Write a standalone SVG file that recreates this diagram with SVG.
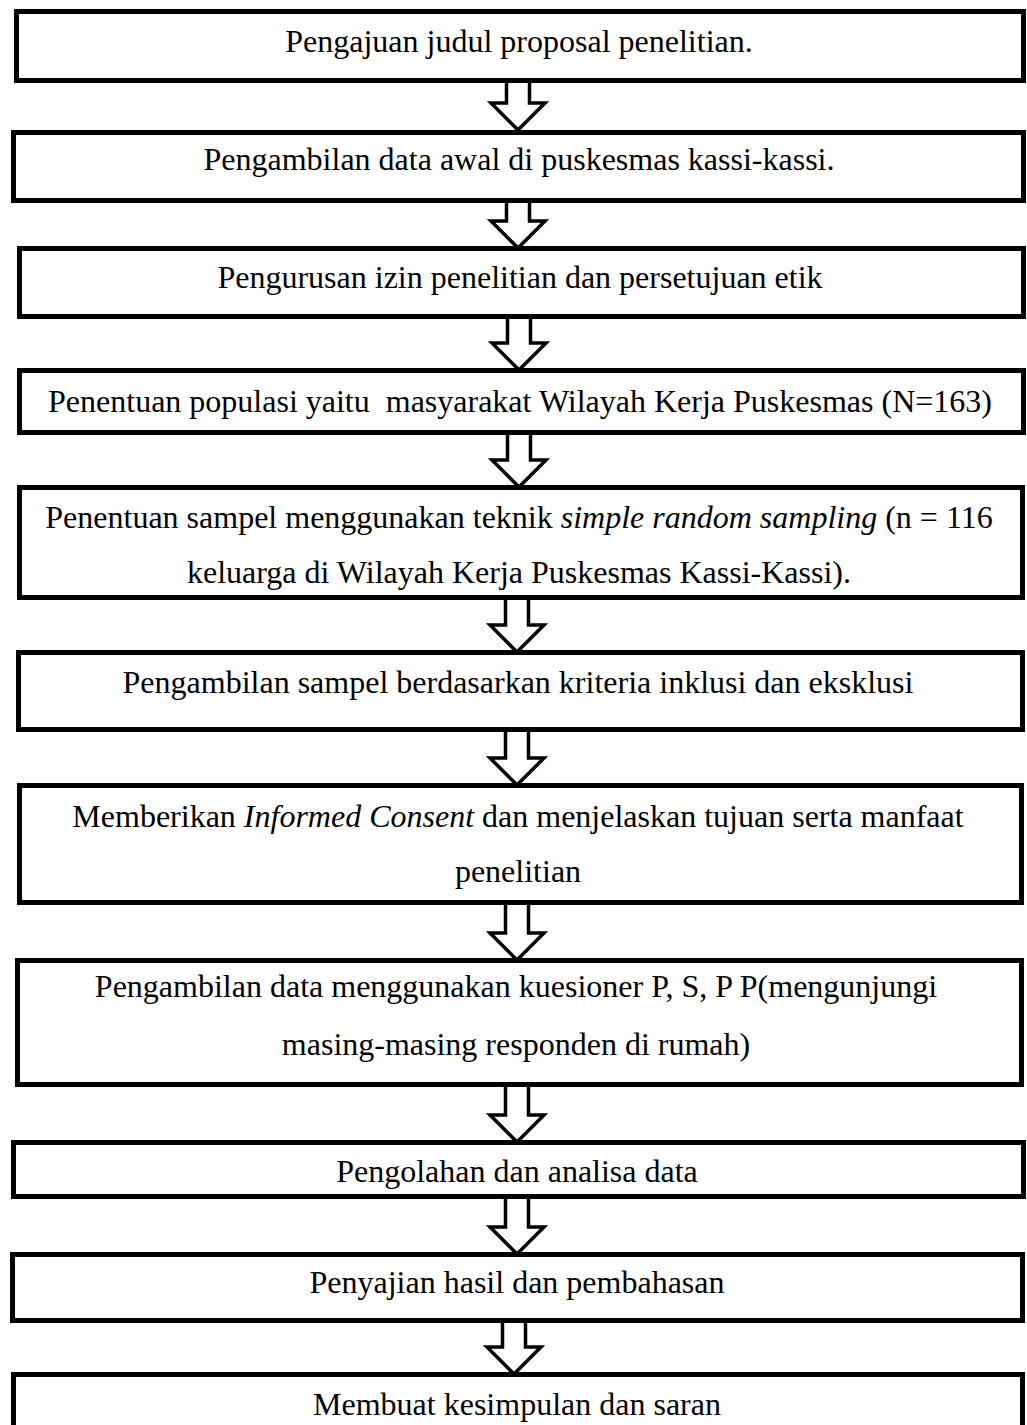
<svg xmlns="http://www.w3.org/2000/svg" width="1027" height="1425" viewBox="0 0 1027 1425">
<style>
.box{fill:#fff;stroke:#000;stroke-width:5}
.arr{fill:#fff;stroke:#000;stroke-width:3.5;stroke-linejoin:miter}
.t{font-family:"Liberation Serif","Times New Roman",serif;font-size:32px;fill:#000;text-anchor:middle}
.i{font-style:italic}
</style>
<rect width="1027" height="1425" fill="#fff"/>
<g id="connectors">
<path class="arr" d="M506.5 80.5 H529.5 V103 H545 L518 130 L491 103 H506.5 Z"/>
<path class="arr" d="M506.5 200.5 H529.5 V221 H545 L518 248 L491 221 H506.5 Z"/>
<path class="arr" d="M507.5 316.5 H530.5 V343 H546 L519 370 L492 343 H507.5 Z"/>
<path class="arr" d="M507.5 432.5 H530.5 V460 H546 L519 487 L492 460 H507.5 Z"/>
<path class="arr" d="M505.5 597.5 H528.5 V625 H544 L517 652 L490 625 H505.5 Z"/>
<path class="arr" d="M505.5 729.5 H528.5 V758 H544 L517 785 L490 758 H505.5 Z"/>
<path class="arr" d="M505.5 902.5 H528.5 V933 H544 L517 960 L490 933 H505.5 Z"/>
<path class="arr" d="M505.5 1084.5 H528.5 V1115 H544 L517 1142 L490 1115 H505.5 Z"/>
<path class="arr" d="M505.5 1196.5 H528.5 V1227 H544 L517 1254 L490 1227 H505.5 Z"/>
<path class="arr" d="M502.5 1320.5 H525.5 V1347 H541 L514 1374 L487 1347 H502.5 Z"/>
</g>
<g id="n1"><rect class="box" x="16.5" y="11.5" width="1007" height="69"/><text class="t" x="519" y="52">Pengajuan judul proposal penelitian.</text></g>
<g id="n2"><rect class="box" x="13.5" y="132.5" width="1010" height="68"/><text class="t" x="519" y="170">Pengambilan data awal di puskesmas kassi-kassi.</text></g>
<g id="n3"><rect class="box" x="19.5" y="248.5" width="1004" height="68"/><text class="t" x="520" y="288">Pengurusan izin penelitian dan persetujuan etik</text></g>
<g id="n4"><rect class="box" x="19.5" y="370.5" width="1004" height="62"/><text class="t" x="520" y="412" xml:space="preserve">Penentuan populasi yaitu  masyarakat Wilayah Kerja Puskesmas (N=163)</text></g>
<g id="n5"><rect class="box" x="19.5" y="487.5" width="1003" height="110"/><text class="t" x="519" y="528">Penentuan sampel menggunakan teknik <tspan class="i">simple random sampling</tspan> (n = 116</text><text class="t" x="519" y="583">keluarga di Wilayah Kerja Puskesmas Kassi-Kassi).</text></g>
<g id="n6"><rect class="box" x="18.5" y="652.5" width="1004" height="77"/><text class="t" x="518" y="693">Pengambilan sampel berdasarkan kriteria inklusi dan eksklusi</text></g>
<g id="n7"><rect class="box" x="19.5" y="785.5" width="1002" height="117"/><text class="t" x="518" y="827">Memberikan <tspan class="i">Informed Consent</tspan> dan menjelaskan tujuan serta manfaat</text><text class="t" x="518" y="882">penelitian</text></g>
<g id="n8"><rect class="box" x="17.5" y="960.5" width="1004" height="124"/><text class="t" x="516" y="997">Pengambilan data menggunakan kuesioner P, S, P P(mengunjungi</text><text class="t" x="516" y="1055">masing-masing responden di rumah)</text></g>
<g id="n9"><rect class="box" x="13.5" y="1142.5" width="1010" height="54"/><text class="t" x="517" y="1182">Pengolahan dan analisa data</text></g>
<g id="n10"><rect class="box" x="12.5" y="1254.5" width="1010" height="66"/><text class="t" x="517" y="1293">Penyajian hasil dan pembahasan</text></g>
<g id="n11"><rect class="box" x="13.5" y="1374.5" width="1009" height="70"/><text class="t" x="517" y="1415">Membuat kesimpulan dan saran</text></g>
</svg>
